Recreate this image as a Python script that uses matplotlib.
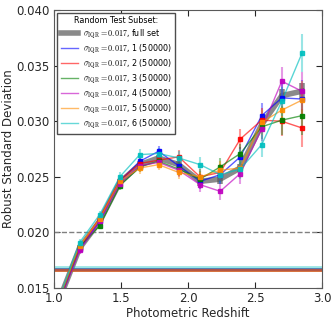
import numpy as np
import matplotlib
matplotlib.use("Agg")
import matplotlib.pyplot as plt
from matplotlib.lines import Line2D

plt.rcParams["mathtext.fontset"] = "cm"

# bin centres (photometric redshift)
z = [1.05, 1.19, 1.34, 1.49, 1.64, 1.78, 1.93, 2.09, 2.24, 2.39, 2.55, 2.70, 2.85]

# robust standard deviation per bin
full_set = [0.0143, 0.0186, 0.0210, 0.0245, 0.0261, 0.0267, 0.0261, 0.0246, 0.0248, 0.0258, 0.0297, 0.0323, 0.0327]
subset_1 = [0.0142, 0.0185, 0.0210, 0.0246, 0.0264, 0.0273, 0.0260, 0.0246, 0.0252, 0.0268, 0.0305, 0.0321, 0.0320]
subset_2 = [0.0143, 0.0186, 0.0213, 0.0247, 0.0262, 0.0265, 0.0268, 0.0250, 0.0254, 0.0284, 0.0301, 0.0300, 0.0294]
subset_3 = [0.0142, 0.0187, 0.0206, 0.0242, 0.0259, 0.0264, 0.0257, 0.0248, 0.0259, 0.0271, 0.0295, 0.0301, 0.0305]
subset_4 = [0.0141, 0.0184, 0.0210, 0.0244, 0.0260, 0.0263, 0.0256, 0.0243, 0.0237, 0.0253, 0.0293, 0.0336, 0.0327]
subset_5 = [0.0144, 0.0188, 0.0212, 0.0246, 0.0258, 0.0261, 0.0254, 0.0250, 0.0256, 0.0258, 0.0299, 0.0310, 0.0319]
subset_6 = [0.0145, 0.0191, 0.0216, 0.0250, 0.0270, 0.0271, 0.0267, 0.0261, 0.0252, 0.0257, 0.0279, 0.0318, 0.0361]

# error bars
err_full = [0.0003, 0.0003, 0.0003, 0.0003, 0.0003, 0.0003, 0.0003, 0.0004, 0.0004, 0.0004, 0.0005, 0.0006, 0.0007]
err_subset = [0.0003, 0.0003, 0.0003, 0.0004, 0.0005, 0.0005, 0.0006, 0.0007, 0.0008, 0.0009, 0.0011, 0.0013, 0.0017]

# sigma_IQR of each sample (horizontal lines)
sigma_iqr = [0.0166, 0.0167, 0.0166, 0.0167, 0.0167, 0.0166, 0.0169]

subsets = [subset_1, subset_2, subset_3, subset_4, subset_5, subset_6]
colors = ["b", "r", "g", "m", "darkorange", "c"]
label_fmt = r"$\sigma_{\rm IQR}=0.017$, %s"

fig = plt.figure(figsize=(3.34, 3.23), dpi=100)
ax = fig.add_axes([0.162, 0.108, 0.802, 0.861])

handles = []
labels = []

# full set
ax.errorbar(z, full_set, yerr=err_full, fmt="none", ecolor="0.35",
            elinewidth=4, alpha=0.7, capsize=0, zorder=2)
ax.plot(z, full_set, color="0.35", lw=4, alpha=0.7, zorder=2)
ax.axhline(sigma_iqr[0], color="0.4", lw=2, alpha=0.7)
handles.append(Line2D([], [], color="0.35", lw=4, alpha=0.7))
labels.append(label_fmt % "full set")

for i, (vals, c) in enumerate(zip(subsets, colors)):
    ax.errorbar(z, vals, yerr=err_subset, fmt="none", ecolor=c, alpha=0.4,
                elinewidth=1.5, capsize=0, zorder=3)
    ax.plot(z, vals, "-", color=c, lw=1, alpha=0.65, zorder=3)
    ax.plot(z, vals, "s", color=c, ms=2.2, mec=c, alpha=0.9, zorder=4)
    ax.axhline(sigma_iqr[i + 1], color=c, lw=2, alpha=0.4)
    handles.append(Line2D([], [], color=c, lw=1, alpha=0.6))
    labels.append(label_fmt % f"{i + 1} (50000)")

ax.axhline(0.020, color="0.5", ls="--", lw=1)

ax.set_xlim(1.0, 3.0)
ax.set_ylim(0.015, 0.040)
ax.set_xticks([1.0, 1.5, 2.0, 2.5, 3.0])
ax.set_yticks([0.015, 0.020, 0.025, 0.030, 0.035, 0.040])
ax.set_yticklabels(["0.015", "0.020", "0.025", "0.030", "0.035", "0.040"])
ax.tick_params(direction="in", top=True, right=True, labelsize=8.5, colors="0.15",
               length=4, pad=3)
for s in ax.spines.values():
    s.set_color("0.35")

ax.set_xlabel("Photometric Redshift", fontsize=8.5, color="0.15", labelpad=1)
ax.set_ylabel("Robust Standard Deviation", fontsize=8.5, color="0.15", labelpad=1)

leg = ax.legend(handles, labels, loc="upper left", fontsize=5.8,
                title="Random Test Subset:", title_fontsize=5.8,
                handlelength=2.2, borderpad=0.45, labelspacing=0.25,
                handletextpad=0.6, fancybox=False, framealpha=1,
                borderaxespad=0.35)
leg.get_frame().set_edgecolor("0.3")

fig.savefig("out.png", dpi=100)
